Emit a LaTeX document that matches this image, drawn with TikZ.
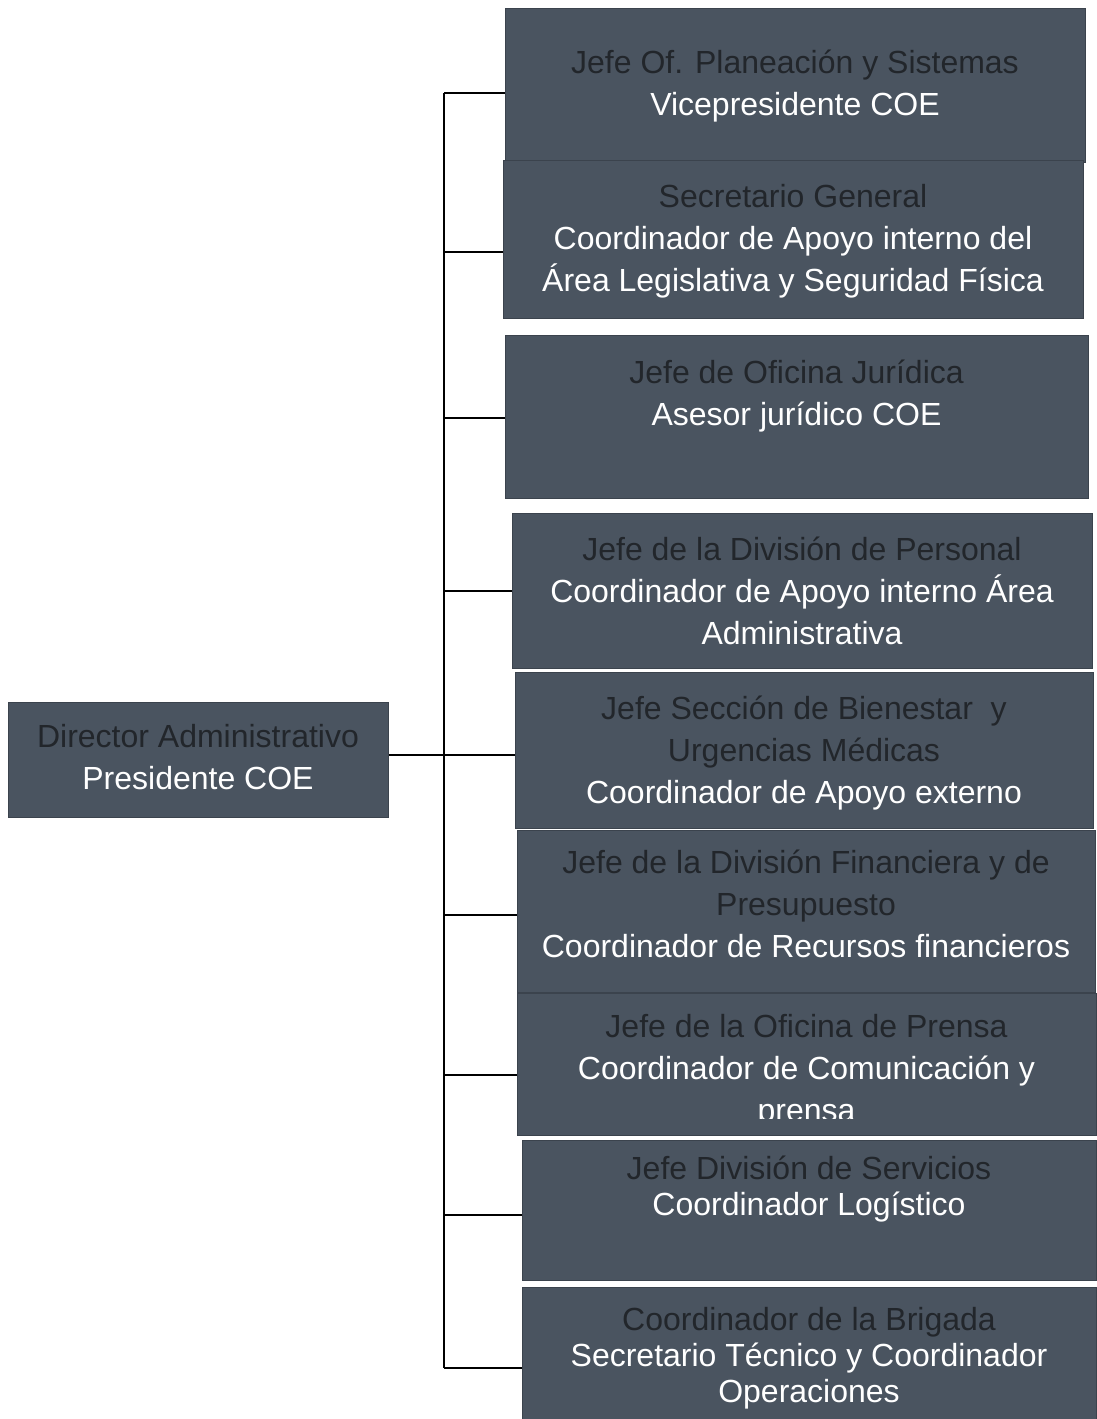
\documentclass[tikz,border=0pt]{standalone}
\usepackage{fontspec}
\setmainfont{Liberation Sans}
\definecolor{boxfill}{HTML}{4A5460}
\definecolor{darktext}{HTML}{22262B}
\tikzset{
  box/.style={rectangle,fill=boxfill,draw=boxfill!80!black,line width=1pt,inner sep=0pt},
  lbl/.style={anchor=north,align=center,text=white,inner sep=0pt,
              font=\fontsize{32}{42}\selectfont},
  tight/.style={font=\fontsize{32}{36}\selectfont},
  link/.style={draw=black,line width=2pt}
}
\newcommand{\dk}[1]{{\color{darktext}#1}}
\begin{document}
\begin{tikzpicture}[x=1pt,y=-1pt]
    \useasboundingbox[fill=white] (0,0) rectangle (1096,1419);
    \begin{scope}
        % boxes
        \node[box,minimum width=380pt,minimum height=115pt] (dir) at (198,759.5) {};
        \node[box,minimum width=580pt,minimum height=154pt] (b1) at (795,85) {};
        \node[box,minimum width=580pt,minimum height=158pt] (b2) at (793,239) {};
        \node[box,minimum width=583pt,minimum height=163pt] (b3) at (796.5,416.5) {};
        \node[box,minimum width=580pt,minimum height=155pt] (b4) at (802,590.5) {};
        \node[box,minimum width=578pt,minimum height=156pt] (b5) at (804,750) {};
        \node[box,minimum width=578pt,minimum height=162pt] (b6) at (806,911) {};
        \node[box,minimum width=579pt,minimum height=142pt] (b7) at (806.5,1064) {};
        \node[box,minimum width=574pt,minimum height=140pt] (b8) at (809,1210) {};
        \node[box,minimum width=574pt,minimum height=132pt] (b9) at (809,1353) {};
    \end{scope}
    \begin{scope}
        % texts
        \node[lbl] (tdir) at ([yshift=-23pt]dir.north) {\dk{Director Administrativo}\\ Presidente COE};
        \node[lbl] (t1) at ([yshift=-42pt]b1.north) {\dk{Jefe Of. Planeación y Sistemas}\\ Vicepresidente COE};
        \node[lbl] (t2) at ([yshift=-25pt]b2.north) {\dk{Secretario General}\\ Coordinador de Apoyo interno del\\ Área Legislativa y Seguridad Física};
        \node[lbl] (t3) at ([yshift=-25pt]b3.north) {\dk{Jefe de Oficina Jurídica}\\ Asesor jurídico COE};
        \node[lbl] (t4) at ([yshift=-24pt]b4.north) {\dk{Jefe de la División de Personal}\\ Coordinador de Apoyo interno Área\\ Administrativa};
        \node[lbl] (t5) at ([yshift=-24pt]b5.north) {\dk{Jefe Sección de Bienestar \ y}\\ \dk{Urgencias Médicas}\\ Coordinador de Apoyo externo};
        \node[lbl] (t6) at ([yshift=-20pt]b6.north) {\dk{Jefe de la División Financiera y de}\\ \dk{Presupuesto}\\ Coordinador de Recursos financieros};
        \begin{scope}
            \clip (b7.north west) rectangle (b7.east |- 0,1118);
            \node[lbl] (t7) at ([yshift=-22pt]b7.north) {\dk{Jefe de la Oficina de Prensa}\\ Coordinador de Comunicación y\\ prensa};
        \end{scope}
        \node[lbl,tight] (t8) at ([yshift=-16pt]b8.north) {\dk{Jefe División de Servicios}\\ Coordinador Logístico};
        \node[lbl,tight] (t9) at ([yshift=-21pt]b9.north) {\dk{Coordinador de la Brigada}\\ Secretario Técnico y Coordinador\\ Operaciones};
    \end{scope}
    \begin{scope}
        % connectors
        \coordinate (ttop) at (444,93);
        \coordinate (tbot) at (444,1368);
        \draw[link] (ttop) -- (tbot);
        \draw[link] ([yshift=-5pt]b5.west) -- ([yshift=-5pt]b5.west -| dir.east);
        \draw[link] ([yshift=-8pt]b1.west) -- ([yshift=-8pt]b1.west -| ttop);
        \draw[link] ([yshift=-13pt]b2.west) -- ([yshift=-13pt]b2.west -| ttop);
        \draw[link] ([yshift=-1.5pt]b3.west) -- ([yshift=-1.5pt]b3.west -| ttop);
        \draw[link] (b4.west) -- (b4.west -| ttop);
        \draw[link] ([yshift=-4pt]b6.west) -- ([yshift=-4pt]b6.west -| ttop);
        \draw[link] ([yshift=-11pt]b7.west) -- ([yshift=-11pt]b7.west -| ttop);
        \draw[link] ([yshift=-5pt]b8.west) -- ([yshift=-5pt]b8.west -| ttop);
        \draw[link] ([yshift=-15pt]b9.west) -- ([yshift=-15pt]b9.west -| ttop);
    \end{scope}
\end{tikzpicture}
\end{document}
